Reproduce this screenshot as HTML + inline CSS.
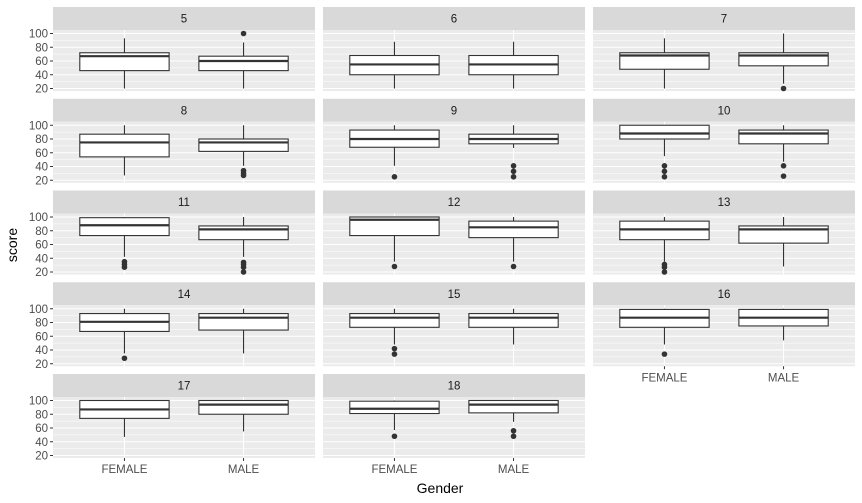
<!DOCTYPE html>
<html><head><meta charset="utf-8">
<style>body{margin:0;background:#fff}svg{display:block}text{font-family:"Liberation Sans",sans-serif}</style>
</head><body>
<svg id="c" width="862" height="503"></svg>
<script>
const facets=[5,6,7,8,9,10,11,12,13,14,15,16,17,18];
const genders=["FEMALE","MALE"];
// per facet: [lowWhisker,q1,median,q3,highWhisker] for FEMALE, MALE
const femaleStats=[[20,46,67,72,93],[20,40,55,68,88],[20,48,68,72,93],[27,54,75,87,100],[41,68,80,93,100],[55,80,88,100,100],[42,73,88,99,100],[35,73,96,100,100],[35,67,82,94,100],[35,67,81,93,100],[48,73,87,93,100],[48,73,87,99,100],[47,74,87,100,100],[57,81,88,99,100]];
const maleStats=[[20,46,60,67,87],[20,40,55,68,88],[27,53,68,72,100],[41,62,75,80,100],[67,73,80,87,100],[47,73,88,93,100],[42,67,82,87,100],[35,70,85,94,100],[28,62,82,87,100],[35,69,87,93,100],[48,73,87,93,100],[54,75,87,99,100],[55,80,94,100,100],[69,82,94,100,100]];
const femaleOut=[[],[],[],[],[25],[41,33,25],[35,31,27],[28],[31,27,20],[28],[42,34],[34],[],[48]];
const maleOut=[[100],[],[20],[34,30,27],[41,33,25],[41,26],[34,31,27,20],[28],[],[],[],[],[],[56,48]];
const yTicks=[20,40,60,80,100];
const yMinor=[30,50,70,90];

const NS="http://www.w3.org/2000/svg";
const svg=document.getElementById('c');
function mk(tag,attrs,parent,txt){const e=document.createElementNS(NS,tag);for(const k in attrs)e.setAttribute(k,attrs[k]);if(txt!==undefined)e.textContent=txt;(parent||svg).appendChild(e);return e;}
const colX=[53,323,593],W=262,stripH=23,PH=61,rowTop=[7,98.75,190.5,282.25,374];
function yS(top,v){return top+3.5+(100-v)*0.6875;}
function xS(left,i){return left+(0.6+i)*W/2.2;}
const bw=0.75*W/2.2;

facets.forEach((f,k)=>{
  const r=Math.floor(k/3),c=k%3,L=colX[c],T=rowTop[r],PT=T+stripH;
  const g=mk('g',{},svg);
  
  
  const st=mk('rect',{x:L,y:T,width:W,height:stripH,fill:'#d9d9d9'},g);
  
  
  const stt=mk('text',{x:L+W/2,y:T+15.5,'text-anchor':'middle','font-size':'11.5',fill:'#1a1a1a'},g,String(f));
  
  
  mk('rect',{x:L,y:PT,width:W,height:PH,fill:'#ebebeb'},g);
  yMinor.forEach(v=>mk('line',{x1:L,x2:L+W,y1:yS(PT,v),y2:yS(PT,v),stroke:'#fff','stroke-width':0.6},g));
  yTicks.forEach(v=>mk('line',{x1:L,x2:L+W,y1:yS(PT,v),y2:yS(PT,v),stroke:'#fff','stroke-width':1.1},g));
  genders.forEach((gn,i)=>mk('line',{x1:xS(L,i),x2:xS(L,i),y1:PT,y2:PT+PH,stroke:'#fff','stroke-width':1.1},g));
  if(c===0){
    yTicks.forEach(v=>{
      mk('line',{x1:L-3,x2:L,y1:yS(PT,v),y2:yS(PT,v),stroke:'#333','stroke-width':1},g);
      const t=mk('text',{x:L-5,y:yS(PT,v)+4,'text-anchor':'end','font-size':'11.5',fill:'#4d4d4d'},g,String(v));
      
      
    });
  }
  [femaleStats,maleStats].forEach((S,i)=>{
    const s=S[k],cx=xS(L,i);
    const b=mk('g',{},g);
    
    
    mk('line',{x1:cx,x2:cx,y1:yS(PT,s[0]),y2:yS(PT,s[1]),stroke:'#333','stroke-width':1.1},b);
    mk('line',{x1:cx,x2:cx,y1:yS(PT,s[3]),y2:yS(PT,s[4]),stroke:'#333','stroke-width':1.1},b);
    mk('rect',{x:cx-bw/2,y:yS(PT,s[3]),width:bw,height:yS(PT,s[1])-yS(PT,s[3]),fill:'#fff',stroke:'#333','stroke-width':1.1},b);
    mk('line',{x1:cx-bw/2,x2:cx+bw/2,y1:yS(PT,s[2]),y2:yS(PT,s[2]),stroke:'#333','stroke-width':2.2},b);
    (i===0?femaleOut:maleOut)[k].forEach(v=>{
      const p=mk('circle',{cx:cx,cy:yS(PT,v),r:2.8,fill:'#333'},b);
      
      
    });
  });
  const bottom=(r===4)||(r===3&&c===2);
  if(bottom){
    genders.forEach((gn,i)=>{
      mk('line',{x1:xS(L,i),x2:xS(L,i),y1:PT+PH,y2:PT+PH+3,stroke:'#333','stroke-width':1},g);
      const t=mk('text',{x:xS(L,i),y:PT+PH+15,'text-anchor':'middle','font-size':'11.5',fill:'#4d4d4d'},g,gn);
      
      
    });
  }
});
const xt=mk('text',{x:440,y:493,'text-anchor':'middle','font-size':'14',fill:'#000'},svg,'Gender');


const yt=mk('text',{x:0,y:0,transform:'translate(17,245) rotate(-90)','text-anchor':'middle','font-size':'14',fill:'#000'},svg,'score');


</script>
</body></html>
